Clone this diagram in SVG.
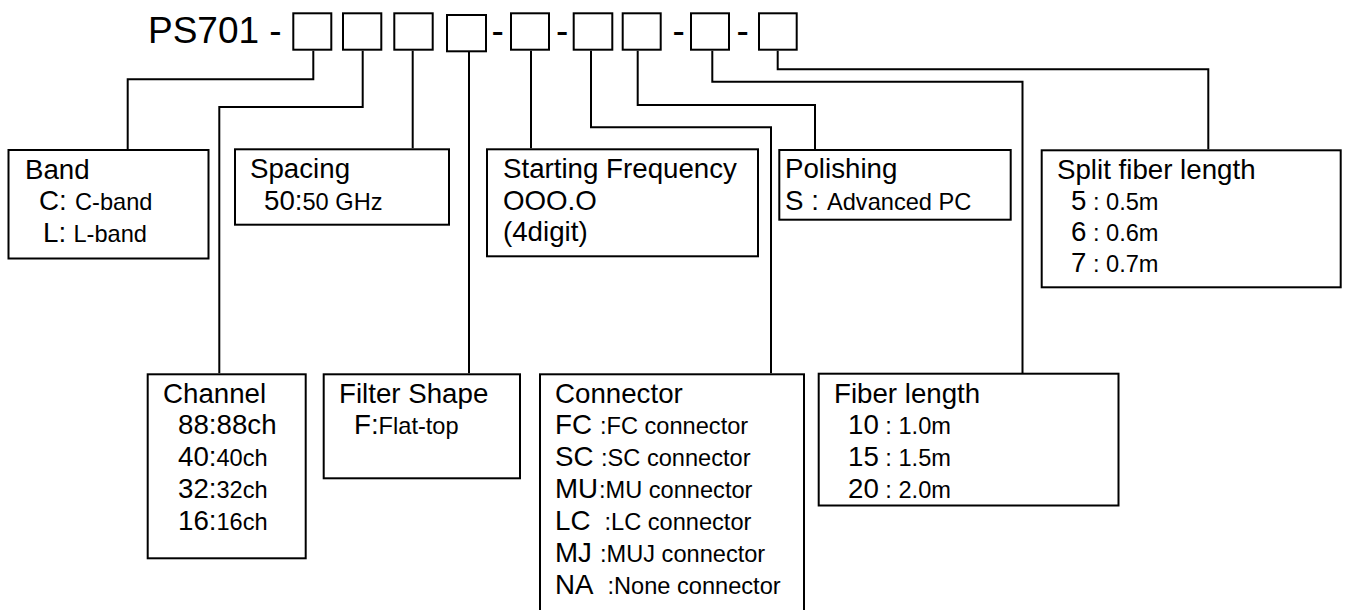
<svg xmlns="http://www.w3.org/2000/svg" width="1345" height="610" viewBox="0 0 1345 610">
<style>
text{font-family:"Liberation Sans",Arial,sans-serif;fill:#000}
.L{font-size:27.7px}
.s{font-size:23.6px}
.T{font-size:37px}
.box{fill:#fff;stroke:#000;stroke-width:2}
.code{fill:none;stroke:#000;stroke-width:2}
.conn path{fill:none;stroke:#000;stroke-width:2}
</style>
<rect width="1345" height="610" fill="#fff"/>
<g id="title">
<text class="T" x="148" y="43">PS701 -</text>
<text class="T" x="491.5" y="43">-</text>
<text class="T" x="556" y="43">-</text>
<text class="T" x="672.5" y="43">-</text>
<text class="T" x="736.5" y="43">-</text>
<rect class="code" x="293.3" y="13.3" width="38" height="36.4"/>
<rect class="code" x="343" y="13.3" width="38.3" height="36.4"/>
<rect class="code" x="394.3" y="13.3" width="38.4" height="36.4"/>
<rect class="code" x="447" y="15" width="39" height="36.3"/>
<rect class="code" x="511" y="13.3" width="38" height="36.4"/>
<rect class="code" x="573.7" y="13.3" width="38.6" height="36.4"/>
<rect class="code" x="622.7" y="13.3" width="38" height="36.4"/>
<rect class="code" x="691" y="13.3" width="38" height="36.4"/>
<rect class="code" x="759" y="13.3" width="37.7" height="36.4"/>
</g>
<g class="conn" id="connectors">
<path d="M313.3,50.7 V79.3 H127.7 V149.3"/>
<path d="M362.7,50.7 V107 H219.3 V373.3"/>
<path d="M412.7,50.7 V148.3"/>
<path d="M469,52 V373.3"/>
<path d="M531,50.7 V148.3"/>
<path d="M591,50.7 V127.3 H771 V373.3"/>
<path d="M637.7,50.7 V105 H815 V149"/>
<path d="M712.3,50.7 V81.7 H1022.5 V373"/>
<path d="M777.7,50.7 V69.3 H1208.3 V149.3"/>
</g>
<g id="band">
<rect class="box" x="8.5" y="150" width="200" height="108.5"/>
<text class="L" x="25" y="178.5">Band</text>
<text x="39" y="210"><tspan class="L">C:</tspan><tspan class="s" x="75">C-band</tspan></text>
<text x="43" y="242"><tspan class="L">L:</tspan><tspan class="s" x="73.5">L-band</tspan></text>
</g>
<g id="spacing">
<rect class="box" x="235" y="149.3" width="214" height="75.4"/>
<text class="L" x="250" y="177.5">Spacing</text>
<text x="264" y="210"><tspan class="L">50:</tspan><tspan class="s">50 GHz</tspan></text>
</g>
<g id="startfreq">
<rect class="box" x="487" y="149.3" width="271" height="107"/>
<text class="L" x="503" y="177.5">Starting Frequency</text>
<text class="L" x="503" y="210">OOO.O</text>
<text class="L" x="503" y="241">(4digit)</text>
</g>
<g id="polishing">
<rect class="box" x="779.3" y="150" width="231.4" height="69.7"/>
<text class="L" x="785" y="177.5">Polishing</text>
<text x="785" y="210"><tspan class="L">S : </tspan><tspan class="s" x="827">Advanced PC</tspan></text>
</g>
<g id="splitfiber">
<rect class="box" x="1041.7" y="150.3" width="299" height="137"/>
<text class="L" x="1057" y="178.5">Split fiber length</text>
<text x="1071" y="210"><tspan class="L">5</tspan><tspan class="s"> : 0.5m</tspan></text>
<text x="1071" y="241"><tspan class="L">6</tspan><tspan class="s"> : 0.6m</tspan></text>
<text x="1071" y="272"><tspan class="L">7</tspan><tspan class="s"> : 0.7m</tspan></text>
</g>
<g id="channel">
<rect class="box" x="147.7" y="374.3" width="158" height="184"/>
<text class="L" x="163" y="403">Channel</text>
<text class="L" x="178" y="434">88:88ch</text>
<text x="178" y="466"><tspan class="L">40:</tspan><tspan class="s">40ch</tspan></text>
<text x="178" y="498"><tspan class="L">32:</tspan><tspan class="s">32ch</tspan></text>
<text x="178" y="530"><tspan class="L">16:</tspan><tspan class="s">16ch</tspan></text>
</g>
<g id="filtershape">
<rect class="box" x="323.7" y="374.3" width="196.3" height="104"/>
<text class="L" x="339" y="403">Filter Shape</text>
<text x="354" y="434"><tspan class="L">F:</tspan><tspan class="s">Flat-top</tspan></text>
</g>
<g id="connector">
<rect class="box" x="540" y="374.3" width="264" height="260"/>
<text class="L" x="555" y="403">Connector</text>
<text x="555" y="434"><tspan class="L">FC</tspan><tspan class="s" x="600">:FC connector</tspan></text>
<text x="555" y="466"><tspan class="L">SC</tspan><tspan class="s" x="601">:SC connector</tspan></text>
<text x="555" y="498"><tspan class="L">MU</tspan><tspan class="s" x="599">:MU connector</tspan></text>
<text x="555" y="530"><tspan class="L">LC</tspan><tspan class="s" x="604.5">:LC connector</tspan></text>
<text x="555" y="562"><tspan class="L">MJ</tspan><tspan class="s" x="600">:MUJ connector</tspan></text>
<text x="555" y="594"><tspan class="L">NA</tspan><tspan class="s" x="607.5">:None connector</tspan></text>
</g>
<g id="fiberlength">
<rect class="box" x="818.7" y="373.7" width="299.8" height="131.8"/>
<text class="L" x="834" y="403">Fiber length</text>
<text x="848" y="434"><tspan class="L">10</tspan><tspan class="s"> : 1.0m</tspan></text>
<text x="848" y="466"><tspan class="L">15</tspan><tspan class="s"> : 1.5m</tspan></text>
<text x="848" y="498"><tspan class="L">20</tspan><tspan class="s"> : 2.0m</tspan></text>
</g>
</svg>
